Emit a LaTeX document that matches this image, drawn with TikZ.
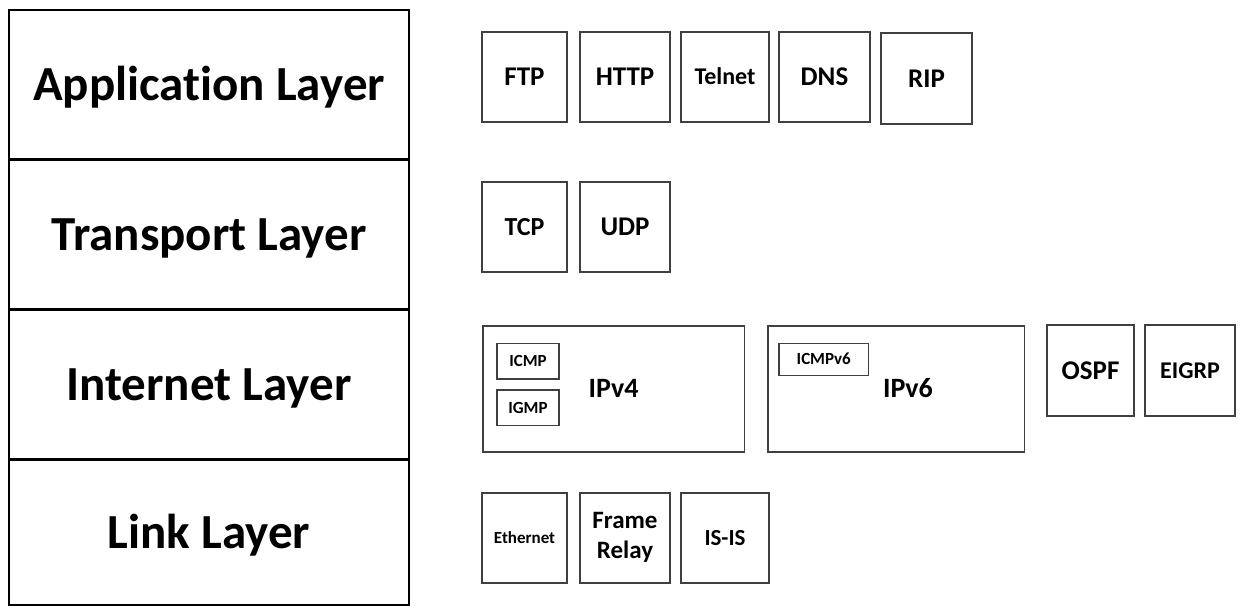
\documentclass[tikz,border=0pt]{standalone}
\usepackage{fontspec}
\setmainfont{Carlito}[Ligatures={NoCommon}]
\begin{document}
\begin{tikzpicture}[x=1pt,y=-1pt,
  layer/.style={draw=black, line width=2.8pt, minimum width=400pt, inner sep=0pt,
    text height=31.6pt, text depth=0pt, font=\fontsize{49}{55}\selectfont\bfseries},
  pbox/.style={draw=black!75, line width=1.5pt, inner sep=0pt},
  fs/.style={font=\fontsize{#1}{#1}\selectfont\bfseries, text height=0.644*#1 pt, text depth=0pt},
  lbl/.style={anchor=base, inner sep=0pt, font=\fontsize{#1}{#1}\selectfont\bfseries},
]
\useasboundingbox (0,0) rectangle (1241,607);

% layer column
\node[layer, minimum height=149.5pt] (app)  at (209,84.75)  {Application Layer};
\node[layer, minimum height=150pt]   (tra)  at (209,234.5)  {Transport Layer};
\node[layer, minimum height=150pt]   (inet) at (209,384.5)  {Internet Layer};
\node[layer, minimum height=145.5pt] (link) at (209,532.25) {Link Layer};

% application protocols
\node[pbox, fs=27, minimum width=85pt, minimum height=90pt] (ftp)    at (524.5,77)   {FTP};
\node[pbox, fs=27, minimum width=90pt, minimum height=90pt] (http)   at (625,77)     {HTTP};
\node[pbox, fs=24, minimum width=88pt, minimum height=90pt] (telnet) at (725,77)     {Telnet};
\node[pbox, fs=27, minimum width=91pt, minimum height=90pt] (dns)    at (824.5,77)   {DNS};
\node[pbox, fs=27, minimum width=91pt, minimum height=91pt] (rip)    at (926.5,78.5) {RIP};

% transport protocols
\node[pbox, fs=26, minimum width=85pt, minimum height=90pt] (tcp) at (524.5,227) {TCP};
\node[pbox, fs=27, minimum width=90pt, minimum height=90pt] (udp) at (625,227)   {UDP};

% internet protocols
\node[pbox, minimum width=261.5pt, minimum height=126pt] (ipv4) at (613.75,389) {};
\node[lbl=28] (ipv4t) at (613.6,397) {IPv4};
\node[pbox, fs=17, minimum width=62pt, minimum height=35.5pt] (icmp) at (528,361.25) {ICMP};
\node[pbox, fs=17, minimum width=62pt, minimum height=35.5pt] (igmp) at (528,407.8)  {IGMP};

\node[pbox, minimum width=256.5pt, minimum height=126pt] (ipv6) at (896.25,389) {};
\node[lbl=28] (ipv6t) at (908,397) {IPv6};
\node[pbox, fs=17, minimum width=89.5pt, minimum height=32pt] (icmpv6) at (823.75,359.5) {ICMPv6};

\node[pbox, fs=27, minimum width=87pt, minimum height=91pt] (ospf)  at (1090.5,370.5) {OSPF};
\node[pbox, fs=24, minimum width=90pt, minimum height=91pt] (eigrp) at (1190,370.5)   {EIGRP};

% link protocols
\node[pbox, fs=17, minimum width=85pt, minimum height=90pt] (eth) at (524.5,538) {Ethernet};
\node[pbox, minimum width=90pt, minimum height=90pt] (fr) at (625,538) {};
\node[lbl=25] (frt1) at (625,528) {Frame};
\node[lbl=25] (frt2) at (625,558) {Relay};
\node[pbox, fs=23, minimum width=88pt, minimum height=90pt] (isis) at (725,538) {IS-IS};
\end{tikzpicture}
\end{document}
